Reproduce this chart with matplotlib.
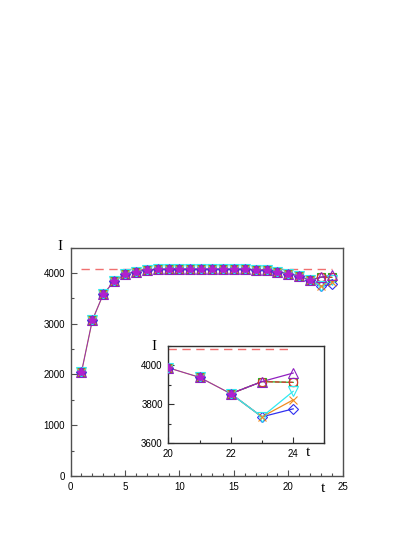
import matplotlib
matplotlib.use("Agg")
import matplotlib.pyplot as plt
from matplotlib.ticker import MultipleLocator

# shared part of all runs, t = 1..22
t_common = list(range(1, 23))
I_common = [2043, 3068, 3580, 3836, 3974, 4026, 4059, 4073, 4076, 4076,
            4076, 4076, 4076, 4076, 4076, 4074, 4065, 4050, 4022, 3988,
            3939, 3855]

# values at t = 23 and t = 24 for each run
I_23 = {"circle": 3917, "square": 3917, "diamond": 3736,
        "up": 3917, "down": 3736, "cross": 3736}
I_24 = {"circle": 3913, "square": 3913, "diamond": 3777,
        "up": 3961, "down": 3867, "cross": 3823}

I_limit = 4082

styles = {
    "circle":  dict(marker="o", color="#e03030", ms=6),
    "square":  dict(marker="s", color="#20b020", ms=6),
    "diamond": dict(marker="D", color="#3030f0", ms=5),
    "down":    dict(marker="v", color="#30e8f0", ms=7),
    "cross":   dict(marker="x", color="#f08c20", ms=6),
    "up":      dict(marker="^", color="#9020c0", ms=7),
}
line_col = {"circle": "#e03030", "square": "#20b020", "diamond": "#3030f0",
            "down": "#30e8f0", "cross": "#f08c20", "up": "#9020c0"}

fig = plt.figure(figsize=(4.15, 5.37), dpi=100)
ax = fig.add_axes([0.170, 0.1136, 0.656, 0.4254])
ins = fig.add_axes([0.4056, 0.1745, 0.376, 0.1812])

sans = "Liberation Sans"
serif = "Liberation Serif"

def draw(a):
    # shared path: tan then purple on top
    a.plot(t_common, I_common, color="#c8a050", lw=0.9, zorder=2)
    a.plot(t_common, I_common, color="#9020c0", lw=0.6, zorder=2)
    for key in ["diamond", "cross", "down", "square", "circle", "up"]:
        tt = [22, 23, 24]
        yy = [I_common[-1], I_23[key], I_24[key]]
        ls = "--" if key == "circle" else "-"
        a.plot(tt, yy, color=line_col[key], lw=0.9, ls=ls, zorder=2)
    # background blobs at shared points
    a.plot(t_common, I_common, ls="none", marker="s", ms=6,
           mfc="#606060", mec="#30e8f0", mew=0.8, zorder=3)
    for key in ["square", "circle", "diamond", "down", "cross", "up"]:
        st = styles[key]
        tt = t_common + [23, 24]
        yy = I_common + [I_23[key], I_24[key]]
        mfc = "none" if st["marker"] != "x" else st["color"]
        a.plot(tt, yy, ls="none", marker=st["marker"], ms=st["ms"],
               mfc=mfc, mec=st["color"], mew=0.8, zorder=4)
    a.plot(t_common, I_common, ls="none", marker="*", ms=6,
           color="#b020d0", zorder=5)

draw(ax)
ax.plot([1, 24], [I_limit, I_limit], color="#f07070", ls=(0, (6, 4)), lw=1.0, zorder=1)
ax.set_xlim(0, 25)
ax.set_ylim(0, 4500)
ax.xaxis.set_major_locator(MultipleLocator(5))
ax.xaxis.set_minor_locator(MultipleLocator(1))
ax.yaxis.set_major_locator(MultipleLocator(1000))
ax.yaxis.set_minor_locator(MultipleLocator(500))

draw(ins)
ins.plot([20, 24], [I_limit, I_limit], color="#f07070", ls=(0, (6, 4)), lw=1.0, zorder=1)
ins.set_xlim(20, 25)
ins.set_ylim(3600, 4100)
ins.xaxis.set_major_locator(MultipleLocator(2))
ins.xaxis.set_minor_locator(MultipleLocator(1))
ins.yaxis.set_major_locator(MultipleLocator(200))
ins.yaxis.set_minor_locator(MultipleLocator(100))

for a, col in ((ax, "#505050"), (ins, "#303030")):
    for s in a.spines.values():
        s.set_color(col)
        s.set_linewidth(1.0)
    a.tick_params(which="both", direction="in", top=False, right=False,
                  color=col, width=0.8, pad=4)
    a.tick_params(which="major", length=4)
    a.tick_params(which="minor", length=2.5)
    for lab in a.get_xticklabels() + a.get_yticklabels():
        lab.set_fontfamily(sans)
        lab.set_fontsize(7)

fig.text(60 / 415, 1 - 247 / 537, "I", family=serif, fontsize=11,
         ha="center", va="center")
fig.text(323 / 415, 1 - 489 / 537, "t", family=serif, fontsize=11,
         ha="center", va="center")
fig.text(154 / 415, 1 - 347 / 537, "I", family=serif, fontsize=11,
         ha="center", va="center")
fig.text(308 / 415, 1 - 452 / 537, "t", family=serif, fontsize=11,
         ha="center", va="center")

fig.savefig("out.png", dpi=100)
